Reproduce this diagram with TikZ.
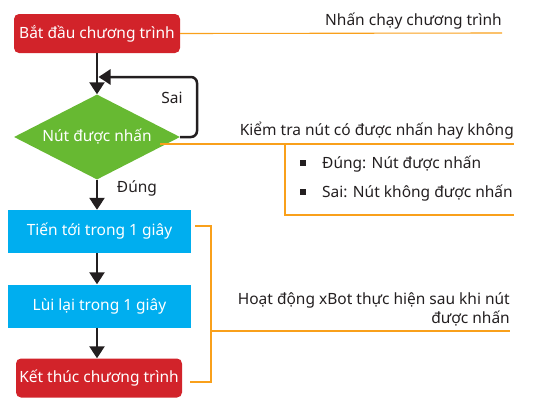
\documentclass[tikz,border=0pt]{standalone}
\usepackage{fontspec}
\setmainfont{Noto Sans}
\usetikzlibrary{shapes.geometric,arrows.meta}
\definecolor{cred}{HTML}{D2232A}
\definecolor{cgreen}{HTML}{67B932}
\definecolor{cblue}{HTML}{00AEEF}
\definecolor{corange}{HTML}{F9A01B}
\definecolor{ctext}{HTML}{231F20}
\tikzset{
  every node/.style={font=\fontsize{15.5}{19}\selectfont, text=ctext},
  termbox/.style={fill=cred, rounded corners=5pt, minimum width=166pt, minimum height=39pt, inner sep=0pt, text=white},
  actbox/.style={fill=cblue, minimum width=183pt, minimum height=43pt, inner sep=0pt, text=white},
  decbox/.style={diamond, fill=cgreen, shape aspect=2, minimum width=166pt, minimum height=85pt, inner sep=0pt, text=white},
  flow/.style={draw=ctext, line width=2.5pt, -{Triangle[width=15pt,length=12pt]}},
  oline/.style={draw=corange, line width=1.1pt},
  bul/.style={fill=ctext, minimum size=5.5pt, inner sep=0pt},
}
\begin{document}
\begin{tikzpicture}[x=1pt,y=-1pt]
\useasboundingbox (0,0) rectangle (555,407);
% flow nodes
\node[termbox] (start) at (97,33.5) {Bắt đầu chương trình};
\node[decbox] (dec) at (97,137) {Nút được nhấn};
\node[actbox] (fwd) at (99.5,231.5) {Tiến tới trong 1 giây};
\node[actbox] (back) at (99.5,306) {Lùi lại trong 1 giây};
\node[termbox] (stop) at (99,378) {Kết thúc chương trình};
% flow arrows
\draw[flow] (start.south) -- (dec.north);
\draw[flow] (dec.south) -- (dec.south |- fwd.north);
\draw[flow] (dec.south |- fwd.south) -- (dec.south |- back.north);
\draw[flow] (dec.south |- back.south) -- (dec.south |- stop.north);
\coordinate (loopr) at (197,77);
\coordinate (loopin) at (98.5,77);
\draw[flow, rounded corners=6pt] (dec.east) -| (loopr) -- (loopin);
\node (sai) at (172,98) {Sai};
\node (dung) at (137,188) {Đúng};
% annotation 1
\coordinate (a1) at (502,33);
\draw[oline] (start.east) -- (a1);
\node[anchor=base east, inner sep=0pt] (t1) at (502,25) {Nhấn chạy chương trình};
% annotation 2
\coordinate (d1) at (160,144);
\coordinate (d2) at (514,144);
\coordinate (d3) at (285,144);
\coordinate (d4) at (285,215);
\coordinate (d5) at (514,215);
\draw[oline] (d1) -- (d2);
\draw[oline] (d3) -- (d4) -- (d5);
\node[anchor=base east, inner sep=0pt] (t2) at (514,135) {Kiểm tra nút có được nhấn hay không};
\node[bul] (b1) at (303,163) {};
\node[bul] (b2) at (303,192) {};
\node[anchor=base west, inner sep=0pt] (t3) at (322,168) {Đúng: Nút được nhấn};
\node[anchor=base west, inner sep=0pt] (t4) at (322,197) {Sai: Nút không được nhấn};
% annotation 3
\coordinate (e1) at (195,226);
\coordinate (e2) at (211,226);
\coordinate (e3) at (211,382);
\coordinate (e4) at (190,382);
\coordinate (e5) at (211,331);
\coordinate (e6) at (510,331);
\draw[oline] (e1) -- (e2) -- (e3) -- (e4);
\draw[oline] (e5) -- (e6);
\node[anchor=base east, inner sep=0pt] (t5) at (510,304) {Hoạt động xBot thực hiện sau khi nút};
\node[anchor=base east, inner sep=0pt] (t6) at (510,323) {được nhấn};
\end{tikzpicture}
\end{document}
